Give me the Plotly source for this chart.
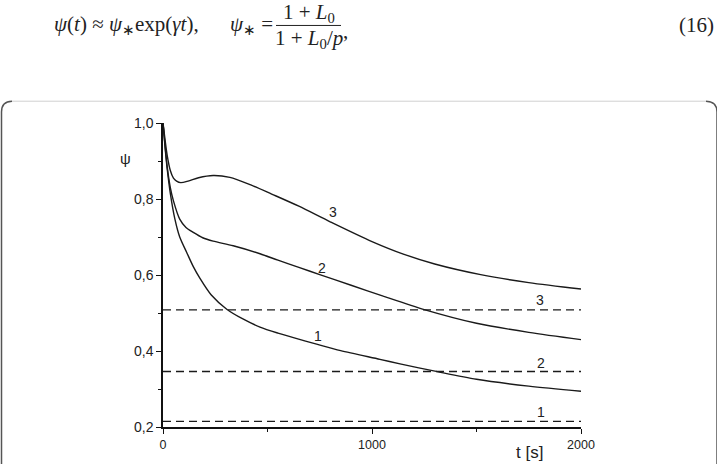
import plotly.graph_objects as go

# ---- data ----
t1 = [0, 10, 20, 35, 57, 80, 113, 145, 177, 230, 305, 380, 464, 550, 624, 735, 850, 1038, 1134, 1301, 1500, 1750, 2000]
psi1 = [1.0, 0.935, 0.88, 0.815, 0.747, 0.70, 0.66, 0.622, 0.591, 0.548, 0.51, 0.485, 0.463, 0.447, 0.435, 0.418, 0.401, 0.378, 0.366, 0.347, 0.3255, 0.3075, 0.294]

t2 = [0, 10, 20, 35, 50, 80, 110, 145, 190, 240, 336, 464, 550, 650, 750, 900, 1050, 1250, 1500, 1750, 2000]
psi2 = [1.0, 0.94, 0.885, 0.83, 0.795, 0.747, 0.725, 0.712, 0.698, 0.689, 0.677, 0.656, 0.639, 0.62, 0.601, 0.573, 0.545, 0.509, 0.473, 0.449, 0.43]

t3 = [0, 10, 20, 35, 50, 65, 85, 120, 170, 240, 320, 420, 520, 650, 800, 1000, 1150, 1300, 1520, 1750, 2000]
psi3 = [1.0, 0.955, 0.915, 0.875, 0.855, 0.847, 0.843, 0.847, 0.856, 0.862, 0.857, 0.837, 0.813, 0.781, 0.740, 0.688, 0.655, 0.629, 0.601, 0.580, 0.563]

asym_t = [0, 2000]
asym_vals = [0.215, 0.346, 0.508]          # dashed levels for curves 1, 2, 3

curve_names = ["1", "2", "3"]
curve_label_pos = [(740, 0.440), (762, 0.619), (812, 0.766)]
asym_label_pos = [(1810, 0.239), (1808, 0.368), (1805, 0.533)]

x_ticks = [0, 1000, 2000]
y_ticks = [0.2, 0.4, 0.6, 0.8, 1.0]

# ---- layout geometry (pixels) ----
W, H = 717, 464
L, R, T, B = 163, 136, 123, 34
PW, PH = W - L - R, H - T - B


def PX(x):
    return (x - L) / PW


def PY(y):
    return (H - B - y) / PH


fig = go.Figure()
line_style = dict(color="#1a1a1a", width=1.4)
for tt, pp in [(t1, psi1), (t2, psi2), (t3, psi3)]:
    fig.add_trace(go.Scatter(x=tt, y=pp, mode="lines", line=dict(shape="spline", smoothing=0.8, **line_style),
                             showlegend=False, hoverinfo="skip"))
for v in asym_vals:
    fig.add_trace(go.Scatter(x=asym_t, y=[v, v], mode="lines",
                             line=dict(color="#1a1a1a", width=1.3, dash="8px,5px"),
                             showlegend=False, hoverinfo="skip"))

ann = []
lab_font = dict(family="Liberation Sans, Arial", size=14, color="#222")
for name, (x, y) in zip(curve_names, curve_label_pos):
    ann.append(dict(x=x, y=y, xref="x", yref="y", text=name, showarrow=False, font=lab_font,
                    xanchor="center", yanchor="middle"))
for name, (x, y) in zip(curve_names, asym_label_pos):
    ann.append(dict(x=x, y=y, xref="x", yref="y", text=name, showarrow=False, font=lab_font,
                    xanchor="center", yanchor="middle"))

# axis titles
ann.append(dict(x=PX(125), y=PY(159), xref="paper", yref="paper", text="ψ", showarrow=False,
                xanchor="center", yanchor="middle",
                font=dict(family="Liberation Sans, Arial", size=15, color="#222")))
ann.append(dict(x=PX(529), y=PY(456), xref="paper", yref="paper", text="t [s]", showarrow=False,
                xanchor="center", yanchor="middle",
                font=dict(family="Liberation Sans, Arial", size=17, color="#222")))

# equation above the figure box
eq_font = dict(family="Liberation Serif, Times New Roman", size=21, color="#222")
ann.append(dict(x=PX(52), y=PY(24), xref="paper", yref="paper", xanchor="left", yanchor="middle",
                text="<i>ψ</i>(<i>t</i>) ≈ <i>ψ</i><sub>∗</sub>exp(<i>γt</i>),", showarrow=False, font=eq_font))
ann.append(dict(x=PX(228), y=PY(24), xref="paper", yref="paper", xanchor="left", yanchor="middle",
                text="<i>ψ</i><sub>∗</sub> =", showarrow=False, font=eq_font))
ann.append(dict(x=PX(309), y=PY(12), xref="paper", yref="paper", xanchor="center", yanchor="middle",
                text="1 + <i>L</i><sub>0</sub>", showarrow=False, font=eq_font))
ann.append(dict(x=PX(309), y=PY(38), xref="paper", yref="paper", xanchor="center", yanchor="middle",
                text="1 + <i>L</i><sub>0</sub>/<i>p</i>", showarrow=False, font=eq_font))
ann.append(dict(x=PX(341), y=PY(30), xref="paper", yref="paper", xanchor="left", yanchor="middle",
                text=",", showarrow=False, font=eq_font))
ann.append(dict(x=PX(716), y=PY(24), xref="paper", yref="paper", xanchor="right", yanchor="middle",
                text="(16)", showarrow=False, font=eq_font))

shapes = [
    # fraction bar
    dict(type="line", xref="paper", yref="paper", x0=PX(276), x1=PX(341), y0=PY(24.5), y1=PY(24.5),
         line=dict(color="#222", width=1)),
    # box frame
    dict(type="path", xref="paper", yref="paper",
         path=f"M {PX(1.5)},{PY(470)} L {PX(1.5)},{PY(112)} Q {PX(1.5)},{PY(101)} {PX(12)},{PY(101)}",
         line=dict(color="#555", width=1.5)),
    dict(type="line", xref="paper", yref="paper", x0=PX(12), x1=PX(706), y0=PY(101), y1=PY(101),
         line=dict(color="#d0d0d0", width=1)),
    dict(type="path", xref="paper", yref="paper",
         path=f"M {PX(706)},{PY(101)} Q {PX(717)},{PY(101)} {PX(717)},{PY(112)} L {PX(717)},{PY(470)}",
         line=dict(color="#555", width=1.5)),
]

fig.update_layout(
    width=W, height=H,
    margin=dict(l=L, r=R, t=T, b=B, pad=0),
    paper_bgcolor="white", plot_bgcolor="white",
    separators=", ",
    showlegend=False,
    annotations=ann, shapes=shapes,
    xaxis=dict(range=[0, 2000], tickvals=x_ticks, ticks="outside", ticklen=5, tickwidth=1.2,
               tickcolor="#111", showline=True, linecolor="#111", linewidth=1.5,
               showgrid=False, zeroline=False,
               tickfont=dict(family="Liberation Sans, Arial", size=12.5, color="#222"),
               minor=dict(tickvals=[500, 1500], ticks="outside", ticklen=3, tickcolor="#111", showgrid=False)),
    yaxis=dict(range=[0.2, 1.0], tickvals=y_ticks, tickformat=".1f", ticks="outside", ticklen=5, tickwidth=1.2,
               tickcolor="#111", showline=True, linecolor="#111", linewidth=1.5,
               showgrid=False, zeroline=False,
               tickfont=dict(family="Liberation Sans, Arial", size=14, color="#222"),
               minor=dict(tickvals=[0.3, 0.5, 0.7, 0.9], ticks="outside", ticklen=3, tickcolor="#111", showgrid=False)),
)

fig.write_html("out.html")
